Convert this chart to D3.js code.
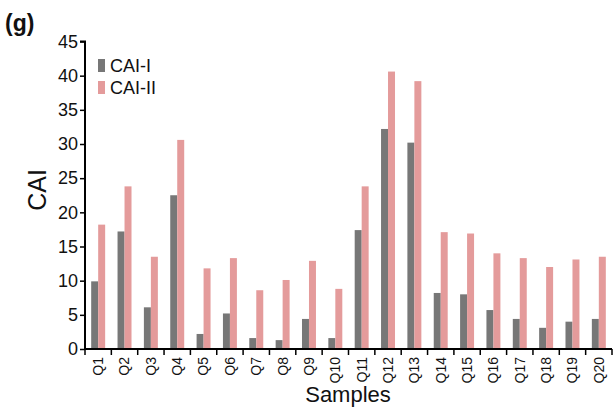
<!DOCTYPE html>
<html><head><meta charset="utf-8">
<script src="https://cdn.jsdelivr.net/npm/d3@7"></script>
<style>body{margin:0;background:#fff}svg{display:block;font-family:"Liberation Sans",Arial,sans-serif}</style>
</head><body><svg id="c" width="615" height="410"></svg>
<script>
const categories = ["Q1","Q2","Q3","Q4","Q5","Q6","Q7","Q8","Q9","Q10","Q11","Q12","Q13","Q14","Q15","Q16","Q17","Q18","Q19","Q20"];
const seriesNames = ["CAI-I","CAI-II"];
const caiI  = [9.9,17.2,6.1,22.5,2.2,5.2,1.6,1.3,4.4,1.6,17.4,32.2,30.2,8.2,8.0,5.7,4.4,3.1,4.0,4.4];
const caiII = [18.2,23.8,13.5,30.6,11.8,13.3,8.6,10.1,12.9,8.8,23.8,40.6,39.2,17.1,16.9,14.0,13.3,12.0,13.1,13.5];
const yTicks = [0,5,10,15,20,25,30,35,40,45];
const colors = ["#777777","#e49b9b"];

const svg = d3.select("#c");
const x0 = 85, x1 = 612, yBase = 349, yTop = 41.5;
const x = d3.scaleBand().domain(categories).range([x0, x1]).paddingInner(0.47).paddingOuter(0.235);
const xs = d3.scaleBand().domain(seriesNames).range([0, x.bandwidth()]);
const y = d3.scaleLinear().domain([0, 45]).range([yBase, yTop]);

const data = categories.map((c,i)=>({c, vals:[caiI[i], caiII[i]]}));
const g = svg.append("g");
g.selectAll("g.grp").data(data).join("g").attr("transform", d=>`translate(${x(d.c)},0)`)
  .selectAll("rect").data(d=>d.vals.map((v,k)=>({v,k}))).join("rect")
  .attr("x", d=>xs(seriesNames[d.k])).attr("width", xs.bandwidth())
  .attr("y", d=>y(d.v)).attr("height", d=>yBase - y(d.v))
  .attr("fill", d=>colors[d.k]);

// y axis
const ya = svg.append("g").attr("transform", `translate(${x0},0)`)
  .call(d3.axisLeft(y).tickValues(yTicks).tickSize(5).tickPadding(2));
ya.selectAll("text").attr("font-size", 18).attr("fill", "#111").attr("font-family","Liberation Sans, Arial, sans-serif");
ya.select(".domain").attr("stroke-width", 2).attr("d", `M-5,${y(45)}H0V${yBase}`);
ya.selectAll(".tick line").attr("stroke-width", 1.5);

// x axis with ticks at group boundaries
const xa = svg.append("g").attr("transform", `translate(0,${yBase})`)
  .call(d3.axisBottom(x).tickSize(0).tickPadding(0));
xa.select(".domain").attr("stroke-width", 2).attr("d", `M${x0-1},0H${x1}`);
const step = x.step();
xa.selectAll("line.bnd").data(d3.range(categories.length+1)).join("line").attr("class","bnd")
  .attr("x1", i=>x0 + i*step).attr("x2", i=>x0 + i*step).attr("y1", 0).attr("y2", 6)
  .attr("stroke", "#000").attr("stroke-width", 1.5);
xa.selectAll(".tick text").attr("font-size", 14).attr("fill", "#111")
  .attr("font-family","Liberation Sans, Arial, sans-serif")
  .attr("transform", "rotate(-90)").attr("text-anchor", "end")
  .attr("x", -8).attr("y", 0).attr("dy", "0.35em");

// axis titles
svg.append("text").attr("transform", "translate(46,190) rotate(-90)").attr("text-anchor", "middle")
  .attr("font-size", 25).attr("fill", "#111").text("CAI");
svg.append("text").attr("x", 348).attr("y", 402).attr("text-anchor", "middle")
  .attr("font-size", 22).attr("fill", "#111").text("Samples");
svg.append("text").attr("x", 5).attr("y", 31).attr("font-size", 23).attr("font-weight", "bold")
  .attr("fill", "#111").text("(g)");

// legend
const lg = svg.append("g").attr("transform", "translate(98,59)");
seriesNames.forEach((n,i)=>{
  lg.append("rect").attr("x", 0).attr("y", i*22).attr("width", 7).attr("height", 13).attr("fill", colors[i]);
  lg.append("text").attr("x", 12).attr("y", i*22+13).attr("font-size", 18).attr("fill", "#111").text(n);
});
</script></body></html>
